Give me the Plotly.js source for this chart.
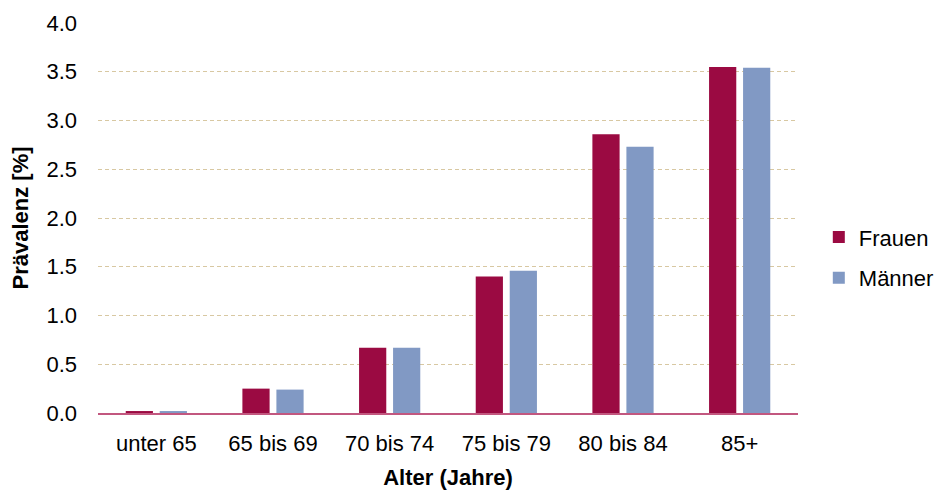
<!DOCTYPE html>
<html>
<head>
<meta charset="utf-8">
<script src="https://cdn.plot.ly/plotly-3.0.1.min.js"></script>
<style>html,body{margin:0;padding:0;background:#fff;}#chart{width:939px;height:492px;}</style>
</head>
<body>
<div id="chart"></div>
<script>
const categories = ["unter 65", "65 bis 69", "70 bis 74", "75 bis 79", "80 bis 84", "85+"];
const frauen = [0.02, 0.25, 0.67, 1.40, 2.86, 3.55];
const maenner = [0.02, 0.24, 0.67, 1.46, 2.73, 3.54];
const yTicks = [0, 0.5, 1.0, 1.5, 2.0, 2.5, 3.0, 3.5, 4.0];
const yTickText = ["0.0", "0.5", "1.0", "1.5", "2.0", "2.5", "3.0", "3.5", "4.0"];

const font = "Liberation Sans, Arial, sans-serif";
const data = [
  {type: "bar", name: "Frauen", legendgroup: "f", x: categories, y: frauen, marker: {color: "#9b0a42"}, hoverinfo: "none"},
  {type: "bar", name: "Männer", legendgroup: "m", x: categories, y: maenner, marker: {color: "#8199c4"}, hoverinfo: "none"}
];
const layout = {
  width: 939, height: 492,
  margin: {l: 98, r: 141, t: 23, b: 79},
  paper_bgcolor: "#fff", plot_bgcolor: "#fff",
  barmode: "group", bargap: 0.417, bargroupgap: 0.2,
  font: {family: font, size: 22, color: "#000"},
  showlegend: true,
  legend: {xref: "container", yref: "container", x: 0.872, y: 0.476, xanchor: "left", yanchor: "middle",
           font: {family: font, size: 22, color: "#000"}, traceorder: "grouped", tracegroupgap: 9, itemwidth: 30},
  xaxis: {
    showline: true, linecolor: "#c2577f", linewidth: 2, showgrid: false, zeroline: false,
    ticks: "", ticklabelstandoff: 10, tickfont: {family: font, size: 22},
    title: {text: "<b>Alter (Jahre)</b>", font: {family: font, size: 22}, standoff: 14}
  },
  yaxis: {
    range: [0, 4], tickvals: yTicks, ticktext: yTickText, showline: false, zeroline: false,
    gridcolor: "#d8c8a2", griddash: "4px,3px", gridwidth: 1,
    ticks: "", ticklabelstandoff: 20, tickfont: {family: font, size: 22},
    title: {text: "<b>Prävalenz [%]</b>", font: {family: font, size: 22}, standoff: 11}
  }
};
Plotly.newPlot("chart", data, layout, {displayModeBar: false, staticPlot: true});
</script>
</body>
</html>
